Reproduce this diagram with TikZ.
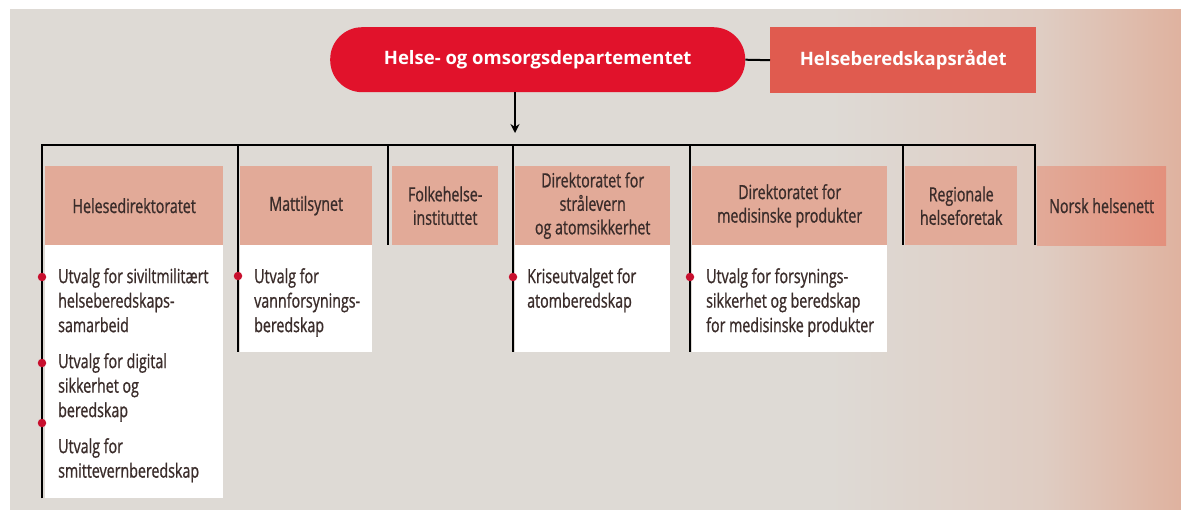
\documentclass[tikz,border=0pt]{standalone}
\usepackage{fontspec}
\setmainfont{Open Sans}
\newfontfamily\narrowfont[FakeStretch=0.73,FakeBold=0.9]{Open Sans}
\newfontfamily\headfont{Open Sans}
\usetikzlibrary{positioning,arrows.meta}

\definecolor{bgbeige}{HTML}{DEDAD5}
\definecolor{bgmid}{HTML}{DFCDC3}
\definecolor{bgpink}{HTML}{DFB29F}
\definecolor{hodred}{HTML}{E1122B}
\definecolor{raadred}{HTML}{E05B4F}
\definecolor{boxpink}{HTML}{E2AA98}
\definecolor{boxdeep}{HTML}{E3907C}
\definecolor{dotred}{HTML}{C8102E}
\definecolor{textdark}{HTML}{3A2C2A}

% the middle 50bp of the shading covers the path
\pgfdeclarehorizontalshading{bgshade}{100bp}{color(0bp)=(bgbeige); color(60bp)=(bgbeige); color(69bp)=(bgmid); color(75bp)=(bgpink); color(100bp)=(bgpink)}

\begin{document}
\begin{tikzpicture}[x=1pt,y=-1pt,
    topbox/.style={anchor=north west, text=white, inner sep=0pt,
        font=\headfont\bfseries\fontsize{18.5}{22}\selectfont},
    orgbox/.style={anchor=north west, fill=boxpink, text=textdark, align=center,
        inner sep=0pt, minimum height=79pt,
        font=\narrowfont\fontsize{19.5}{23.5}\selectfont},
    panel/.style={anchor=north west, fill=white, inner sep=0pt},
    item/.style={anchor=north west, inner sep=0pt, align=left, text=textdark,
        font=\narrowfont\fontsize{19.5}{24.5}\selectfont},
    bus/.style={line width=2.8pt, black},
    dot/.style={circle, fill=dotred, inner sep=0pt, minimum size=8.5pt}]

    % Background
    \fill[white] (0,0) rectangle (1181,509);
    \shade[shading=bgshade] (10,9) rectangle (1181,509);
    \useasboundingbox (0,0) rectangle (1181,509);

    % Ministry and council
    \node[topbox, fill=hodred, rounded corners=32pt, minimum width=415pt, minimum height=65pt] (hod) at (330,27) {Helse- og omsorgsdepartementet};
    \node[topbox, fill=raadred, minimum width=266pt, minimum height=66pt] (raad) at (770,27) {Helseberedskapsrådet};
    \draw[line width=2pt] (hod.east) -- (raad.west);

    % Arrow down to the bus
    \coordinate (split) at (515,133);
    \draw[line width=2pt, -{Stealth[length=9pt,width=9pt]}] (hod.south -| split) -- (split);

    % Agencies
    \node[orgbox, minimum width=178pt] (hdir) at (45,166) {Helesedirektoratet};
    \node[orgbox, minimum width=132pt] (mat) at (240,166) {Mattilsynet};
    \node[orgbox, minimum width=106pt] (fhi) at (392,166) {Folkehelse-\\instituttet};
    \node[orgbox, minimum width=155pt] (dsa) at (515,166) {Direktoratet for\\strålevern\\og atomsikkerhet};
    \node[orgbox, minimum width=195pt] (dmp) at (692,166) {Direktoratet for\\medisinske produkter};
    \node[orgbox, minimum width=112pt] (rhf) at (905,166) {Regionale\\helseforetak};
    \node[orgbox, minimum width=129pt, left color=boxpink, right color=boxdeep] (nhn) at (1037,166) {Norsk helsenett};

    % Committee panels
    \node[panel, minimum width=178pt, minimum height=253pt] (p1) at (45,245) {};
    \node[panel, minimum width=132pt, minimum height=107pt] (p2) at (240,245) {};
    \node[panel, minimum width=155pt, minimum height=107pt] (p4) at (515,245) {};
    \node[panel, minimum width=195pt, minimum height=107pt] (p5) at (692,245) {};

    % Bus and drop lines
    \coordinate (b1) at (42,145);
    \coordinate (b2) at (238,145);
    \coordinate (b3) at (388,145);
    \coordinate (b4) at (513,145);
    \coordinate (b5) at (690,145);
    \coordinate (b6) at (903,145);
    \coordinate (b7) at (1035,145);
    \draw[bus] (b1 |- p1.south) -- (b1) -- (b7) -- (b7 |- nhn.south);
    \draw[bus] (b2) -- (b2 |- p2.south);
    \draw[bus] (b3) -- (b3 |- fhi.south);
    \draw[bus] (b4) -- (b4 |- p4.south);
    \draw[bus] (b5) -- (b5 |- p5.south);
    \draw[bus] (b6) -- (b6 |- rhf.south);

    % Committees
    \node[item] (u1) at (58,268) {Utvalg for siviltmilitært\\helseberedskaps-\\samarbeid};
    \node[item] (u2) at (58,353) {Utvalg for digital\\sikkerhet og\\beredskap};
    \node[item] (u3) at (58,438) {Utvalg for\\smittevernberedskap};
    \node[item] (u4) at (254,268) {Utvalg for\\vannforsynings-\\beredskap};
    \node[item] (u5) at (527,268) {Kriseutvalget for\\atomberedskap};
    \node[item] (u6) at (706,268) {Utvalg for forsynings-\\sikkerhet og beredskap\\for medisinske produkter};

    \node[dot] (d1) at (42,277) {};
    \node[dot] (d2) at (42,363) {};
    \node[dot] (d3) at (42,423) {};
    \node[dot] (d4) at (238,276) {};
    \node[dot] (d5) at (513,277) {};
    \node[dot] (d6) at (690,277) {};
\end{tikzpicture}
\end{document}
